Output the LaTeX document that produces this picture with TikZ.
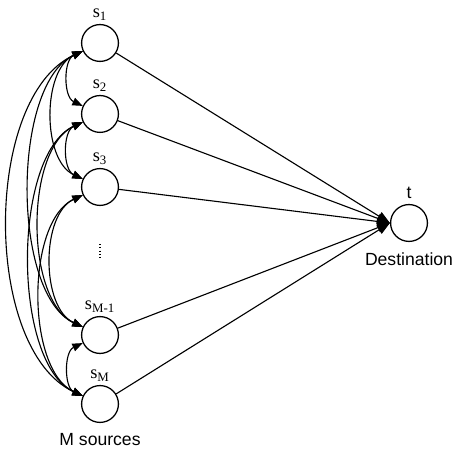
\documentclass[tikz,border=0pt]{standalone}
\usepackage{fontspec}
\setmainfont{Liberation Serif}
\setsansfont{Liberation Sans}
\usepackage{tikz}
\usetikzlibrary{arrows.meta,positioning}

\tikzset{
  vertex/.style={circle, draw, line width=0.8pt, minimum size=0.81cm, inner sep=0pt},
  slabel/.style={font=\fontsize{11.5}{13}\selectfont, inner sep=0.2em},
  caption/.style={font=\sffamily\fontsize{11}{13}\selectfont},
  link/.style={<->, line width=0.7pt, >={Triangle[length=6.5pt,width=5pt]}},
  feed/.style={-{Triangle[length=8pt,width=6pt]}, line width=0.7pt}
}

\begin{document}
\begin{tikzpicture}

\useasboundingbox (0,0) rectangle (10,9.868);

% Source nodes
\foreach \n/\y/\lab in {1/8.923/1, 2/7.363/2, 3/5.758/3, 4/2.505/M-1, 5/0.989/M} {
    \node[vertex] (s\n) at (2.198,\y) {};
    \node[slabel, above=0pt of s\n] (l\n) {s\textsubscript{\lab}};
}

% Destination node
\node[vertex] (t) at (8.989,4.967) {};
\node[caption, above=0pt of t] (lt) {t};
\node[caption, below=0.1cm of t] (dest) {Destination};
\node[caption, below=0.1cm of s5] (msrc) {M sources};

% Omitted sources
\coordinate (dtop) at (2.198,4.50);
\coordinate (dbot) at (2.198,4.15);
\draw[line width=0.8pt, dash pattern=on 0.6pt off 1.4pt] (dtop) -- (dbot);

% Links among the sources
\foreach \a/\b/\l in {1/2/1, 2/3/1, 4/5/1, 1/3/0.9, 3/4/0.9, 2/4/0.8, 3/5/0.8,
                      1/4/0.73, 2/5/0.73, 1/5/0.82} {
    \draw[link] (s\a) to[bend right=65, looseness=\l] (s\b);
}

% Links to the destination
\foreach \n in {1,...,5} {
    \draw[feed] (s\n) -- (t.west);
}

\end{tikzpicture}
\end{document}
